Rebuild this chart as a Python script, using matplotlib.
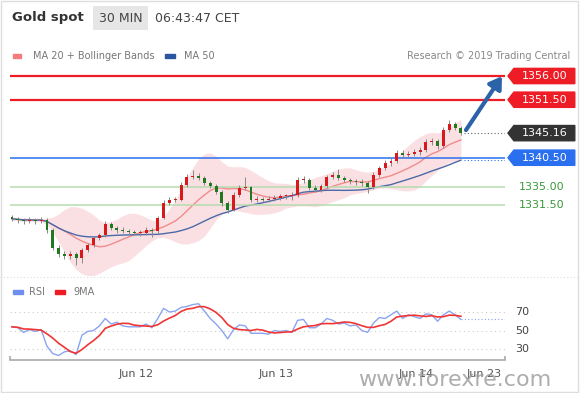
import numpy as np
import pandas as pd
import matplotlib
matplotlib.use("Agg")
import matplotlib.pyplot as plt
from matplotlib.patches import Rectangle, Polygon
import matplotlib.transforms as mtransforms

# hourly candles
closes = [1328.9, 1328.7, 1328.5, 1328.7, 1328.5, 1328.7, 1326.8, 1323.4, 1322.2, 1321.8,
          1322.2, 1321.5, 1323.0, 1323.9, 1325.3, 1325.8, 1327.9, 1327.2, 1326.8, 1326.6,
          1326.4, 1326.2, 1326.2, 1326.8, 1326.6, 1329.1, 1331.9, 1332.5, 1332.5, 1335.3,
          1336.8, 1337.0, 1336.7, 1335.7, 1335.1, 1334.0, 1331.9, 1330.6, 1333.4, 1334.8,
          1334.9, 1332.5, 1332.7, 1332.5, 1332.7, 1332.9, 1333.2, 1333.2, 1333.4, 1336.3,
          1336.3, 1334.8, 1334.4, 1335.1, 1336.8, 1337.2, 1336.7, 1336.3, 1336.1, 1335.9,
          1335.7, 1334.9, 1337.2, 1338.5, 1339.5, 1339.9, 1341.4, 1341.0, 1341.2, 1341.6,
          1342.0, 1343.5, 1343.7, 1342.7, 1345.8, 1346.9, 1346.1, 1345.16]
highs = [1329.6, 1329.3, 1329.1, 1329.2, 1329.0, 1329.3, 1329.0, 1327.2, 1323.9, 1322.8,
         1322.7, 1322.6, 1323.4, 1324.4, 1325.7, 1326.3, 1328.4, 1328.3, 1327.6, 1327.3,
         1327.0, 1326.8, 1326.7, 1327.4, 1327.2, 1329.5, 1332.4, 1333.0, 1333.1, 1335.8,
         1337.4, 1338.2, 1337.6, 1337.1, 1336.0, 1335.5, 1334.4, 1332.3, 1333.9, 1335.3,
         1336.8, 1335.2, 1333.2, 1333.1, 1333.2, 1333.4, 1333.7, 1333.7, 1333.9, 1336.8,
         1337.0, 1336.7, 1335.3, 1335.6, 1337.3, 1337.8, 1338.4, 1337.1, 1336.7, 1336.5,
         1336.4, 1336.1, 1337.7, 1339.0, 1340.0, 1340.6, 1342.0, 1341.9, 1341.7, 1342.1,
         1342.5, 1344.0, 1344.2, 1344.1, 1346.3, 1347.7, 1347.3, 1346.5]
lows = [1328.5, 1328.2, 1328.0, 1328.1, 1328.0, 1328.1, 1326.3, 1323.0, 1321.7, 1321.2,
        1321.3, 1320.1, 1320.6, 1322.6, 1323.5, 1324.9, 1325.4, 1326.8, 1326.3, 1326.2,
        1326.0, 1325.8, 1325.7, 1325.8, 1325.5, 1326.2, 1328.8, 1331.5, 1332.0, 1332.2,
        1335.0, 1336.4, 1336.2, 1335.3, 1334.7, 1333.6, 1331.4, 1330.0, 1330.3, 1333.0,
        1334.4, 1332.0, 1332.1, 1332.0, 1332.1, 1332.3, 1332.5, 1332.7, 1332.4, 1333.0,
        1335.7, 1334.3, 1333.9, 1334.0, 1334.7, 1336.4, 1336.2, 1335.8, 1335.6, 1335.4,
        1335.2, 1333.8, 1334.5, 1336.8, 1338.1, 1339.0, 1339.5, 1340.5, 1340.6, 1340.8,
        1341.1, 1341.6, 1343.0, 1342.2, 1342.4, 1345.4, 1345.7, 1344.8]
first_open = 1329.2

rsi = [54, 53, 48, 51, 49, 51, 33, 25, 23, 27, 28, 24, 45, 49, 50, 55, 63, 57, 59, 55,
       54, 54, 54, 57, 53, 63, 74, 70, 71, 75, 76, 78, 79, 71, 63, 57, 50, 41, 51, 56,
       55, 47, 47, 47, 46, 50, 49, 50, 48, 61, 62, 53, 53, 57, 63, 61, 57, 58, 55, 56,
       50, 48, 58, 64, 63, 67, 71, 63, 67, 65, 63, 68, 67, 60, 67, 71, 67, 62]

levels = [1356.0, 1351.5, 1345.16, 1340.5, 1335.0, 1331.5]
level_colors = ["#ee1c25", "#ee1c25", "#333333", "#2a6ff0", None, None]
date_pos = [21.3, 45.3, 69.3, 81.0]
date_labels = ["Jun 12", "Jun 13", "Jun 14", "Jun 23"]

c = pd.Series(closes)
opens = [first_open] + closes[:-1]
ma20 = c.rolling(10, min_periods=1).mean()
sd = c.rolling(10, min_periods=2).std().bfill().rolling(4, min_periods=1).mean()
upper = ma20 + 2 * sd
lower = ma20 - 2 * sd
ma50 = c.rolling(25, min_periods=1).mean()
rsi_ma = pd.Series(rsi).rolling(5, min_periods=1).mean()
x = np.arange(len(closes))

fig = plt.figure(figsize=(5.8, 3.93), dpi=100)
fig.patch.set_facecolor("white")

# main price panel
ax = fig.add_axes([10 / 580, 1 - 275 / 393, 495 / 580, 207 / 393])
ax.set_xlim(-0.34, 84.56)
ax.set_ylim(1318.24, 1357.52)
ax.axis("off")

ax.fill_between(x, lower, upper, color="#fbd9dc", alpha=0.8, lw=0)
ax.plot(x, ma20, color="#f28b8b", lw=1)
ax.plot(x, ma50, color="#4a6aa8", lw=1)

for i in range(len(closes)):
    o, cl = opens[i], closes[i]
    col = "#d7191c" if cl >= o else "#1f7a1f"
    ax.vlines(i, lows[i], highs[i], color="#8a8a8a", lw=0.7, zorder=3)
    ax.add_patch(Rectangle((i - 0.25, min(o, cl)), 0.5, max(abs(cl - o), 0.15),
                           color=col, zorder=4, lw=0))

ax.axhline(levels[0], color="#ee1c25", lw=1.6)
ax.axhline(levels[1], color="#ee1c25", lw=1.6)
ax.axhline(levels[3], color="#2a6ff0", lw=1.1)
ax.axhline(levels[4], color="#b5dcae", lw=1.1)
ax.axhline(levels[5], color="#b5dcae", lw=1.1)
ax.hlines(levels[2], len(closes) - 0.5, 84.56, color="#666666", lw=0.8, linestyles=(0, (1, 2)))
ax.hlines(ma50.iloc[-1], len(closes) - 0.5, 84.56, color="#2a6ff0", lw=0.8, linestyles=(0, (1, 2)))

ax.annotate("", xy=(84.3, 1356.4), xytext=(77.6, 1345.3),
            arrowprops=dict(arrowstyle="-|>,head_length=0.7,head_width=0.45",
                            color="#2b62a8", lw=3))

# price labels on the right
tr = mtransforms.blended_transform_factory(ax.transAxes, ax.transData)
for lvl, col in zip(levels, level_colors):
    if col is None:
        ax.text(1.075, lvl, f"{lvl:.2f}", transform=tr, ha="center", va="center",
                color="#3a9a3a", fontsize=8)
        continue
    h = 1.45
    poly = Polygon([(1.006, lvl), (1.018, lvl + h), (1.141, lvl + h),
                    (1.141, lvl - h), (1.018, lvl - h)], closed=True,
                   transform=tr, color=col, clip_on=False)
    ax.add_patch(poly)
    ax.text(1.08, lvl, f"{lvl:.2f}", transform=tr, ha="center", va="center",
            color="white", fontsize=8)

# RSI panel
ax2 = fig.add_axes([10 / 580, 1 - 360 / 393, 495 / 580, 60 / 393])
ax2.set_xlim(-0.34, 84.56)
ax2.set_ylim(18.1, 83.0)
for s in ["top", "right", "left"]:
    ax2.spines[s].set_visible(False)
ax2.spines["bottom"].set_color("#aaaaaa")
ax2.spines["bottom"].set_linewidth(1.2)
ax2.set_xticks([])
ax2.set_yticks([])
for g in [30, 50, 70]:
    ax2.axhline(g, color="#cccccc", lw=0.8, ls=(0, (1, 3)))
    ax2.text(1.035, g, str(g), transform=mtransforms.blended_transform_factory(ax2.transAxes, ax2.transData),
             ha="center", va="center", fontsize=8, color="#444444")
ax2.plot(x, rsi, color="#8aa4f0", lw=1)
ax2.plot(x, rsi_ma, color="#f03535", lw=1.2)
ax2.hlines(rsi[-1], len(rsi) - 1, 84.56, color="#8aa4f0", lw=0.8, linestyles=(0, (1, 2)))
ax2.vlines([-0.34, 84.56], 18.1, 22.5, color="#aaaaaa", lw=1.2, clip_on=False)
for p, lab in zip(date_pos, date_labels):
    ax2.text(p, 18.1 - 15, lab, ha="center", va="center", fontsize=8, color="#555555", clip_on=False)

# header and legends
fig.text(12 / 580, 1 - 18 / 393, "Gold spot", fontsize=9.5, fontweight="bold", color="#333333", va="center")
fig.text(99 / 580, 1 - 18 / 393, "30 MIN", fontsize=9, color="#444444", va="center",
         bbox=dict(boxstyle="square,pad=0.45", fc="#e6e6e6", ec="none"))
fig.text(155 / 580, 1 - 18 / 393, "06:43:47 CET", fontsize=9, color="#444444", va="center")

fig.patches.append(Rectangle((13 / 580, 1 - 58 / 393), 8 / 580, 4 / 393, transform=fig.transFigure, color="#f47c7c"))
fig.text(33 / 580, 1 - 56 / 393, "MA 20 + Bollinger Bands", fontsize=7, color="#777777", va="center")
fig.patches.append(Rectangle((165 / 580, 1 - 58 / 393), 10 / 580, 4 / 393, transform=fig.transFigure, color="#2b55a0"))
fig.text(184 / 580, 1 - 56 / 393, "MA 50", fontsize=7, color="#777777", va="center")
fig.text(570 / 580, 1 - 56 / 393, "Research \u00a9 2019 Trading Central", fontsize=7, color="#888888",
         va="center", ha="right")

fig.patches.append(Rectangle((13 / 580, 1 - 294 / 393), 10 / 580, 4 / 393, transform=fig.transFigure, color="#6f8ff0"))
fig.text(29 / 580, 1 - 292 / 393, "RSI", fontsize=7, color="#777777", va="center")
fig.patches.append(Rectangle((55 / 580, 1 - 294 / 393), 10 / 580, 4 / 393, transform=fig.transFigure, color="#ee1c25"))
fig.text(73 / 580, 1 - 292 / 393, "9MA", fontsize=7, color="#777777", va="center")

fig.lines.append(plt.Line2D([0, 1], [1 - 277 / 393] * 2, transform=fig.transFigure,
                            color="#dddddd", lw=0.8, ls=(0, (1, 2))))
fig.patches.append(Rectangle((0.002, 0.003), 0.995, 0.994, transform=fig.transFigure,
                             fill=False, ec="#dddddd", lw=1))

fig.text(455 / 580, 1 - 380 / 393, "www.forexre.com", fontsize=16, color="#999999", alpha=0.8,
         ha="center", va="center")

fig.savefig("out.png", dpi=100)
